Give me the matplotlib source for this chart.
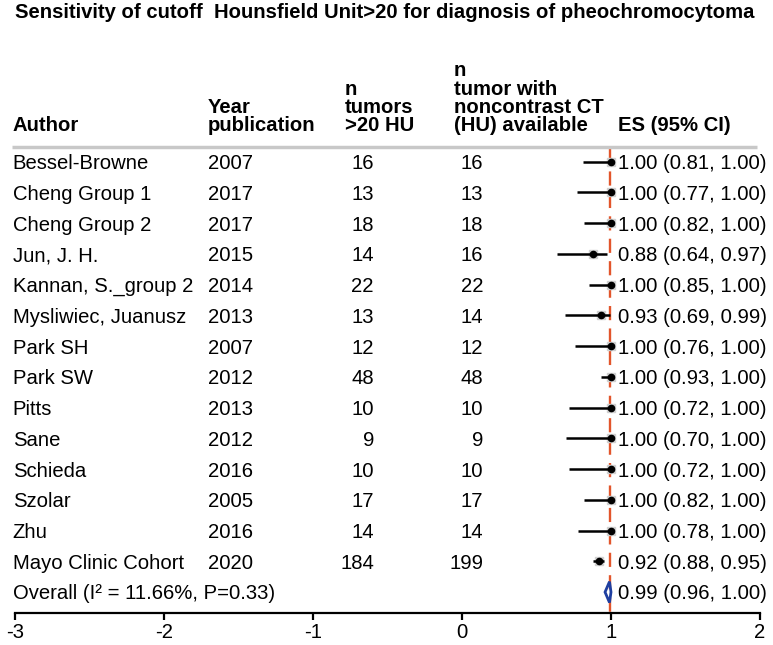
import numpy as np
import matplotlib
matplotlib.use("Agg")
from matplotlib import pyplot as plt
from matplotlib.patches import Polygon

plt.rcParams['font.family'] = ['Liberation Sans', 'DejaVu Sans']

# ---------------------------------------------------------------- data
authors = ["Bessel-Browne", "Cheng Group 1", "Cheng Group 2", "Jun, J. H.",
           "Kannan, S._group 2", "Mysliwiec, Juanusz", "Park SH", "Park SW",
           "Pitts", "Sane", "Schieda", "Szolar", "Zhu", "Mayo Clinic Cohort"]
years = ["2007", "2017", "2017", "2015", "2014", "2013", "2007", "2012",
         "2013", "2012", "2016", "2005", "2016", "2020"]
n_pos = [16, 13, 18, 14, 22, 13, 12, 48, 10, 9, 10, 17, 14, 184]
n_tot = [16, 13, 18, 16, 22, 14, 12, 48, 10, 9, 10, 17, 14, 199]
es = [1.00, 1.00, 1.00, 0.88, 1.00, 0.93, 1.00, 1.00, 1.00, 1.00, 1.00, 1.00, 1.00, 0.92]
lo = [0.81, 0.77, 0.82, 0.64, 0.85, 0.69, 0.76, 0.93, 0.72, 0.70, 0.72, 0.82, 0.78, 0.88]
hi = [1.00, 1.00, 1.00, 0.97, 1.00, 0.99, 1.00, 1.00, 1.00, 1.00, 1.00, 1.00, 1.00, 0.95]

overall_label = "Overall (I\u00b2 = 11.66%, P=0.33)"
overall_es, overall_lo, overall_hi = 0.99, 0.96, 1.00

x_ticks = [-3, -2, -1, 0, 1, 2]

title = "Sensitivity of cutoff  Hounsfield Unit>20 for diagnosis of pheochromocytoma"
headers = [
    (["Author"], -3.015),
    (["publication", "Year"], -1.705),
    ([">20 HU", "tumors", "n"], -0.785),
    (["(HU) available", "noncontrast CT", "tumor with", "n"], -0.054),
    (["ES (95% CI)"], 1.047),
]

# ---------------------------------------------------------------- layout
W, H = 773, 645
fig = plt.figure(figsize=(W / 100, H / 100), dpi=100)
ax = fig.add_axes([15 / W, (H - 613) / H, 745 / W, 613 / H])

fs = 14.6
ax.set_xlim(-3, 2)
ax.set_ylim(14.68, -5.26)

for s in ["top", "left", "right"]:
    ax.spines[s].set_visible(False)
ax.spines["bottom"].set_linewidth(1.6)
ax.set_yticks([])
ax.set_xticks(x_ticks)
ax.set_xticklabels([str(t) for t in x_ticks], fontsize=fs)
ax.tick_params(axis="x", direction="out", length=5, width=1.6, pad=2)

# title
fig.text(15 / W, 1 - 18.5 / H, title, fontsize=fs, fontweight="bold",
         ha="left", va="baseline")

# header
for lines, xpos in headers:
    for k, line in enumerate(lines):
        ax.text(xpos, -1.0 - 0.592 * k, line, fontsize=fs, fontweight="bold",
                ha="left", va="baseline")

ax.plot([-3.02, 1.98], [-0.48, -0.48], color="#c8c8c8", lw=2.5,
        solid_capstyle="butt", clip_on=False)

# reference line at pooled estimate
ax.plot([overall_es, overall_es], [-0.42, 14.68], color="#e2552b", lw=1.7,
        dashes=(6, 3.5), zorder=1)

rows = np.arange(len(authors))
off = 0.24
for i in rows:
    ax.text(-3.015, i + off, authors[i], fontsize=fs, ha="left", va="baseline")
    ax.text(-1.705, i + off, years[i], fontsize=fs, ha="left", va="baseline")
    ax.text(-0.591, i + off, str(n_pos[i]), fontsize=fs, ha="right", va="baseline")
    ax.text(0.141, i + off, str(n_tot[i]), fontsize=fs, ha="right", va="baseline")
    ax.text(1.05, i + off, "%.2f (%.2f, %.2f)" % (es[i], lo[i], hi[i]),
            fontsize=fs, ha="left", va="baseline")

ax.hlines(rows, lo, hi, color="black", lw=1.8, zorder=3)
ax.plot(es, rows, "s", color="#d0d0d0", ms=6, zorder=2)
ax.plot(es, rows, "o", color="black", ms=4.5, zorder=4)

# overall
r = len(authors)
ax.text(-3.015, r + off, overall_label, fontsize=fs, ha="left", va="baseline")
ax.text(1.05, r + off, "%.2f (%.2f, %.2f)" % (overall_es, overall_lo, overall_hi),
        fontsize=fs, ha="left", va="baseline")
diamond = Polygon([[overall_lo, r], [overall_es, r - 0.34],
                   [overall_hi, r], [overall_es, r + 0.34]],
                  closed=True, fill=False, edgecolor="#1f3fa0", lw=2, zorder=5)
ax.add_patch(diamond)

plt.savefig("out.png", dpi=100)
